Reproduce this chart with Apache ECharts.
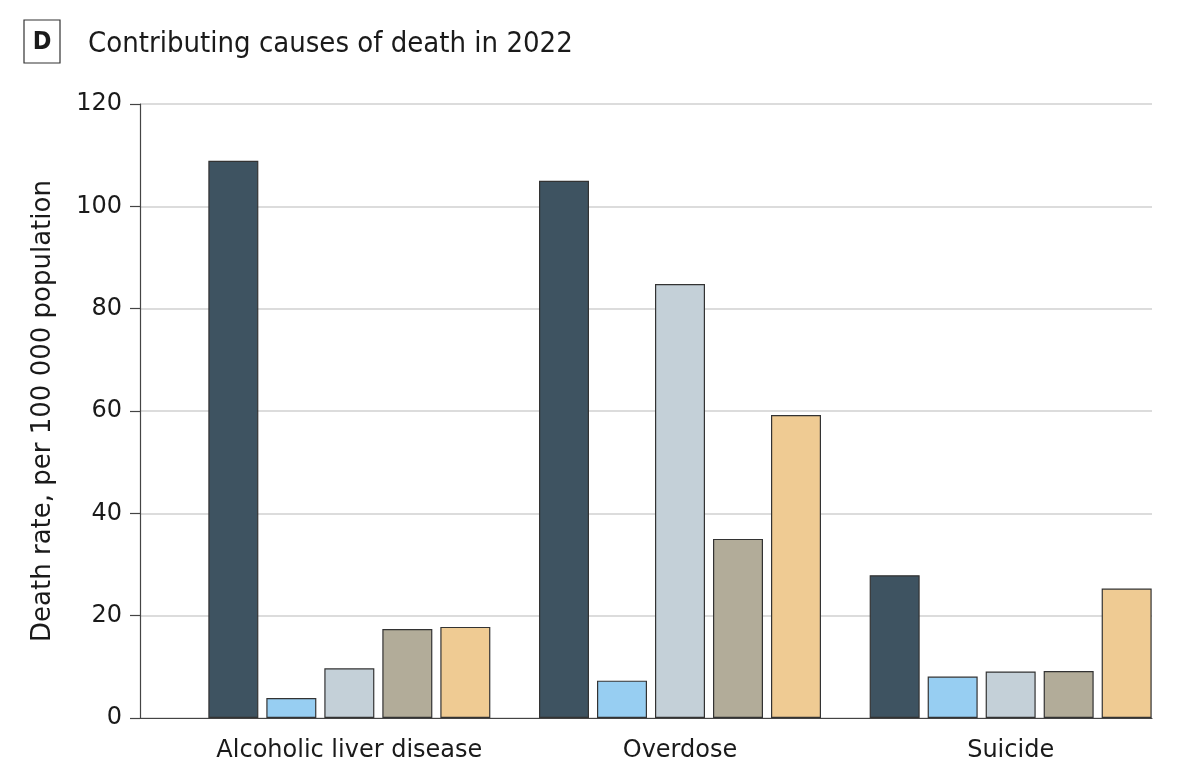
<!DOCTYPE html>
<html>
<head>
<meta charset="utf-8">
<script src="https://cdn.jsdelivr.net/npm/echarts@6/dist/echarts.min.js"></script>
<style>html,body{margin:0;padding:0;background:#fff;}#c{width:1200px;height:768px;}</style>
</head>
<body>
<div id="c"></div>
<script>
const categories = ['Alcoholic liver disease', 'Overdose', 'Suicide'];
const seriesA = [108.9, 105.0, 27.9];
const seriesB = [3.9, 7.3, 8.1];
const seriesC = [9.7, 84.8, 9.1];
const seriesD = [17.4, 35.0, 9.2];
const seriesE = [17.8, 59.2, 25.3];
const yTicks = [0, 20, 40, 60, 80, 100, 120];
const colors = ['#3e5361', '#97cef2', '#c4d0d8', '#b2ac99', '#efcb93'];

const chart = echarts.init(document.getElementById('c'), null, {renderer: 'canvas'});
const seriesData = [seriesA, seriesB, seriesC, seriesD, seriesE];

const option = {
  backgroundColor: '#fff',
  animation: false,
  graphic: [
    {type: 'rect', shape: {x: 24, y: 20, width: 36, height: 43}, style: {fill: '#fff', stroke: '#333', lineWidth: 1.2}},
    {type: 'text', x: 42, y: 42, style: {text: 'D', font: 'bold 25px "DejaVu Sans Condensed"', fill: '#1a1a1a', align: 'center', verticalAlign: 'middle'}},
    {type: 'text', x: 88, y: 44, style: {text: 'Contributing causes of death in 2022', font: '29px "DejaVu Sans Condensed"', fill: '#1a1a1a', align: 'left', verticalAlign: 'middle'}}
  ],
  grid: [
    {left: 140, right: 48, top: 104, bottom: 50},
    {left: 184, width: 992, top: 104, bottom: 50}
  ],
  xAxis: [
    {gridIndex: 0, type: 'category', data: categories, axisLine: {lineStyle: {color: '#444', width: 1.2}}, axisTick: {show: false}, axisLabel: {show: false}},
    {gridIndex: 1, type: 'category', data: categories, axisLine: {show: false}, axisTick: {show: false},
     axisLabel: {interval: 0, hideOverlap: false, fontFamily: 'DejaVu Sans', fontSize: 24, color: '#1a1a1a', margin: 21}}
  ],
  yAxis: [
    {gridIndex: 0, type: 'value', min: yTicks[0], max: yTicks[yTicks.length - 1], interval: 20,
     name: 'Death rate, per 100 000 population', nameLocation: 'middle', nameGap: 84,
     nameTextStyle: {fontFamily: 'DejaVu Sans', fontSize: 26, color: '#1a1a1a'},
     axisLine: {show: true, lineStyle: {color: '#444', width: 1.2}},
     axisTick: {show: true, length: 10, lineStyle: {color: '#444', width: 1.2}},
     axisLabel: {fontFamily: 'DejaVu Sans', fontSize: 24, color: '#1a1a1a', margin: 18},
     splitLine: {show: true, lineStyle: {color: '#dcdcdc', width: 2}}},
    {gridIndex: 1, type: 'value', min: yTicks[0], max: yTicks[yTicks.length - 1], interval: 20, show: false, splitLine: {show: false}}
  ],
  series: seriesData.map((d, i) => ({
    type: 'bar', xAxisIndex: 1, yAxisIndex: 1, data: d,
    barWidth: 50, barGap: '16%',
    itemStyle: {color: colors[i], borderColor: '#333', borderWidth: 1.2}
  }))
};
chart.setOption(option);
</script>
</body>
</html>
